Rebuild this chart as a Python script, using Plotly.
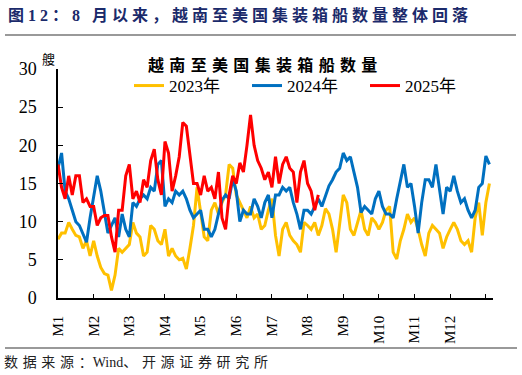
import plotly.graph_objects as go
import numpy as np

step_days = 3
months = ["M1", "M2", "M3", "M4", "M5", "M6", "M7", "M8", "M9", "M10", "M11", "M12"]

y2023 = [7.7, 8.5, 8.5, 9.9, 9.0, 8.2, 8.0, 6.5, 7.5, 5.5,
         7.5, 5.5, 4.0, 3.2, 3.0, 1.0, 3.0, 6.5, 6.0, 6.5,
         7.0, 9.9, 8.5, 8.0, 5.5, 6.0, 9.5, 9.0, 7.5, 7.0,
         9.0, 5.5, 6.5, 5.5, 5.0, 5.2, 3.8, 6.5, 9.5, 14.5,
         11.5, 8.0, 7.5, 11.5, 12.5, 11.0, 12.5, 13.5, 17.5, 17.0,
         13.5, 12.5, 11.5, 10.5, 12.0, 10.5, 11.0, 9.0, 9.5, 11.5,
         13.0, 8.2, 5.5, 9.0, 9.9, 8.2, 7.5, 7.0, 6.0, 9.9,
         9.5, 9.0, 9.9, 8.2, 9.5, 11.7, 11.0, 9.0, 6.0, 9.9,
         13.5, 12.5, 9.0, 8.2, 9.9, 11.5, 9.0, 8.2, 10.5, 9.9,
         9.0, 9.9, 11.5, 12.0, 6.0, 5.1, 7.5, 9.0, 11.0, 9.9,
         10.5, 9.0, 7.0, 5.5, 8.5, 9.5, 9.0, 8.5, 6.5, 8.0,
         9.0, 9.9, 9.0, 7.5, 7.0, 7.5, 6.0, 10.5, 12.5, 8.2,
         12.5, 15.0]

y2024 = [17.0, 19.0, 14.0, 13.0, 11.5, 10.0, 9.5, 8.5, 7.3, 10.5,
         13.5, 16.0, 14.0, 11.0, 8.5, 9.5, 10.5, 8.0, 11.0, 9.0,
         8.0, 12.5, 12.0, 13.0, 13.5, 13.0, 14.5, 14.0, 17.5, 18.0,
         12.0, 13.0, 12.5, 14.0, 13.5, 14.0, 13.0, 11.5, 10.5, 11.0,
         11.5, 9.0, 9.0, 8.0, 9.0, 11.0, 12.8, 13.5, 13.0, 15.6,
         14.0, 10.0, 11.5, 11.0, 11.0, 13.0, 12.0, 10.5, 12.5, 13.5,
         10.5, 13.5, 13.5, 14.5, 14.0, 14.5, 12.5, 11.0, 9.0, 11.5,
         11.5, 11.0, 12.0, 13.0, 12.0, 13.5, 14.7, 15.5, 16.5, 17.0,
         19.0, 18.0, 18.5, 16.5, 14.5, 11.2, 12.0, 11.5, 11.0, 13.0,
         14.0, 12.0, 11.0, 11.0, 10.5, 13.0, 15.5, 17.5, 14.5, 15.0,
         12.0, 8.5, 12.5, 15.5, 15.5, 14.5, 17.5, 14.0, 11.0, 14.5,
         14.0, 16.0, 14.0, 12.5, 13.0, 11.5, 10.5, 11.5, 14.5, 15.0,
         18.6, 17.5]

y2025 = [17.5, 14.5, 13.0, 16.0, 13.5, 16.0, 16.0, 12.5, 13.0, 12.0,
         12.0, 9.5, 10.5, 10.8, 10.8, 8.0, 6.0, 11.5, 11.5, 16.0,
         17.5, 13.0, 14.0, 12.5, 15.5, 14.5, 18.0, 19.5, 15.5, 13.5,
         20.5, 19.0, 14.0, 16.0, 18.5, 23.0, 22.5, 18.5, 15.0, 15.0,
         13.5, 16.0, 14.0, 14.5, 13.0, 16.5, 10.5, 9.0, 13.5, 16.0,
         15.0, 17.7, 16.5, 20.0, 24.0, 20.0, 18.0, 17.0, 15.5, 16.5,
         14.5, 18.5, 15.0, 17.5, 18.5, 17.0, 16.5, 12.5, 16.5, 18.0,
         15.0, 14.0, 11.5, 13.5]

series = [("2023年", y2023, "#FFC000"),
          ("2024年", y2024, "#0070C0"),
          ("2025年", y2025, "#FF0000")]

# ---- layout helpers (pixel -> paper coords) ----
W, H = 522, 375
L, R, T, B = 58, 29, 69, 77
PW, PH = W - L - R, H - T - B


def px(xp):
    return (xp - L) / PW


def py(yp):
    return (H - B - yp) / PH


def spaced(s, sp="\u2004"):
    return sp.join(list(s))


fig = go.Figure()
for name, ys, col in series:
    xs = np.arange(len(ys)) * step_days
    fig.add_trace(go.Scatter(x=xs, y=ys, mode="lines", name=name,
                             line=dict(color=col, width=3)))

serif = "Liberation Serif, Noto Sans CJK SC"
fig.update_layout(
    width=W, height=H,
    margin=dict(l=L, r=R, t=T, b=B, pad=0, autoexpand=False),
    paper_bgcolor="white", plot_bgcolor="white",
    showlegend=True,
    legend=dict(orientation="h", x=px(129), y=py(86), xanchor="left", yanchor="middle",
                font=dict(family=serif, size=17, color="black"),
                bgcolor="rgba(0,0,0,0)", entrywidth=73, entrywidthmode="pixels",
                traceorder="normal"),
    xaxis=dict(range=[0, 366], tickmode="array",
               tickvals=[i * 30 for i in range(13)],
               ticktext=months + [""],
               tickangle=-90, ticks="inside", ticklen=4, tickcolor="black",
               showline=True, linecolor="black", linewidth=1.5,
               showgrid=False, zeroline=False, automargin=False,
               tickfont=dict(family=serif, size=15, color="black"),
               ticklabelstandoff=10),
    yaxis=dict(range=[0, 30], tickmode="array", tickvals=[0, 5, 10, 15, 20, 25, 30],
               ticks="inside", ticklen=5, tickcolor="black",
               showline=True, linecolor="black", linewidth=1.5,
               showgrid=False, zeroline=False, automargin=False,
               tickfont=dict(family=serif, size=18, color="black"),
               ticklabelstandoff=16),
)

annotations = [
    dict(text="<b>" + spaced("图12：8 月以来，越南至美国集装箱船数量整体回落", "\u2005") + "</b>",
         x=px(6), y=py(15), xanchor="left", yanchor="middle",
         font=dict(family=serif, size=16, color="#1B2A6B")),
    dict(text="<b>" + spaced("越南至美国集装箱船数量") + "</b>",
         x=px(262), y=py(64), xanchor="center", yanchor="middle",
         font=dict(family="Noto Sans CJK SC", size=16, color="black")),
    dict(text="艘", x=px(48), y=py(58), xanchor="center", yanchor="middle",
         font=dict(family="Noto Sans CJK SC", size=13, color="black")),
    dict(text=spaced("数据来源：") + "Wind" + spaced("、开源证券研究所"),
         x=px(2), y=py(362), xanchor="left", yanchor="middle",
         font=dict(family=serif, size=14, color="#222222")),
]
for a in annotations:
    a.update(xref="paper", yref="paper", showarrow=False)
fig.update_layout(annotations=annotations)

fig.add_shape(type="line", xref="paper", yref="paper", x0=px(5), x1=px(516), y0=py(35), y1=py(35),
              line=dict(color="#999999", width=2))
fig.add_shape(type="line", xref="paper", yref="paper", x0=px(5), x1=px(517), y0=py(348), y1=py(348),
              line=dict(color="#999999", width=2))

fig.write_html("out.html", config={"displayModeBar": False},
               post_script="document.body.style.margin='0';document.body.style.overflow='hidden';")
